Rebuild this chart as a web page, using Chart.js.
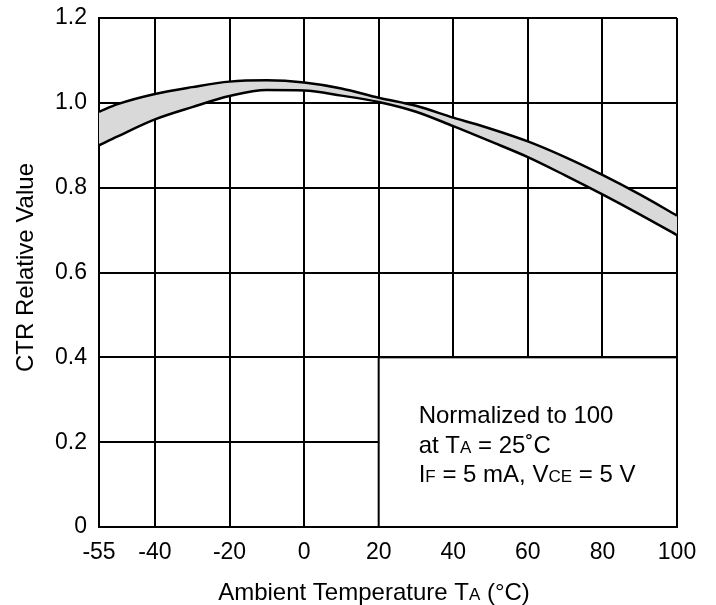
<!DOCTYPE html>
<html>
<head>
<meta charset="utf-8">
<script src="https://cdn.jsdelivr.net/npm/chart.js@4.4.0/dist/chart.umd.min.js"></script>
<style>
html,body{margin:0;padding:0;background:#fff;}
#wrap{width:716px;height:605px;position:relative;}
</style>
</head>
<body>
<div id="wrap"><canvas id="c" width="716" height="605"></canvas></div>
<script>
// Data
const temps = [-55, -50, -40, -30, -20, -10, 0, 10, 20, 30, 40, 50, 60, 70, 80, 90, 100];
const upperCTR = [0.979, 0.997, 1.021, 1.037, 1.050, 1.053, 1.048, 1.034, 1.012, 0.993, 0.965, 0.939, 0.909, 0.872, 0.830, 0.784, 0.734];
const lowerCTR = [0.900, 0.921, 0.961, 0.990, 1.016, 1.030, 1.029, 1.017, 1.002, 0.979, 0.945, 0.909, 0.872, 0.829, 0.784, 0.737, 0.688];
const xTickValues = [-55, -40, -20, 0, 20, 40, 60, 80, 100];
const yTickValues = [0, 0.2, 0.4, 0.6, 0.8, 1.0, 1.2];
const xTitleRuns = [['Ambient Temperature T', 24], ['A', 17], [' (°C)', 24]];
const yTitle = 'CTR Relative Value';
const noteLines = [
  [['Normalized to 100', 24]],
  [['at T', 24], ['A', 17], [' = 25˚C', 24]],
  [['I', 24], ['F', 17], [' = 5 mA, V', 24], ['CE', 17], [' = 5 V', 24]]
];

const FONT = '"Liberation Sans", Arial, Helvetica, sans-serif';

function drawRuns(ctx, runs, x, y, align) {
  let total = 0;
  runs.forEach(r => { ctx.font = r[1] + 'px ' + FONT; total += ctx.measureText(r[0]).width; });
  let cx = align === 'center' ? x - total / 2 : x;
  ctx.textAlign = 'left';
  ctx.textBaseline = 'alphabetic';
  runs.forEach(r => {
    ctx.font = r[1] + 'px ' + FONT;
    ctx.fillText(r[0], cx, y);
    cx += ctx.measureText(r[0]).width;
  });
}

const annot = {
  id: 'annot',
  beforeDatasetsDraw(chart) {
    const ctx = chart.ctx, xs = chart.scales.x, ys = chart.scales.y;
    const l = xs.getPixelForValue(20), r = xs.getPixelForValue(100);
    const t = ys.getPixelForValue(0.4), b = ys.getPixelForValue(0);
    ctx.save();
    ctx.fillStyle = '#fff';
    ctx.fillRect(l, t, r - l, b - t);
    ctx.strokeStyle = '#000';
    ctx.lineWidth = 2;
    ctx.strokeRect(l, t, r - l, b - t);
    ctx.restore();
  },
  afterDraw(chart) {
    const ctx = chart.ctx, xs = chart.scales.x, ys = chart.scales.y;
    const l = xs.getPixelForValue(20), t = ys.getPixelForValue(0.4);
    const ca = chart.chartArea;
    ctx.save();
    ctx.fillStyle = '#000';
    noteLines.forEach((line, i) => drawRuns(ctx, line, l + 40, t + 66 + i * 29.5, 'left'));
    drawRuns(ctx, xTitleRuns, (ca.left + ca.right) / 2 - 14, 600, 'center');
    ctx.translate(33, (ca.top + ca.bottom) / 2 - 5);
    ctx.rotate(-Math.PI / 2);
    ctx.font = '24px ' + FONT;
    ctx.textAlign = 'center';
    ctx.textBaseline = 'alphabetic';
    ctx.fillText(yTitle, 0, 0);
    ctx.restore();
  }
};

const grid = { color: '#000', lineWidth: 2, drawTicks: false };
const border = { display: true, color: '#000', width: 2 };

new Chart(document.getElementById('c'), {
  type: 'line',
  data: {
    datasets: [
      {
        data: temps.map((t, i) => ({ x: t, y: upperCTR[i] })),
        borderColor: '#000', borderWidth: 2.5, pointRadius: 0, fill: false,
        cubicInterpolationMode: 'monotone'
      },
      {
        data: temps.map((t, i) => ({ x: t, y: lowerCTR[i] })),
        borderColor: '#000', borderWidth: 2.5, pointRadius: 0, fill: '-1',
        backgroundColor: '#d9d9d9',
        cubicInterpolationMode: 'monotone'
      }
    ]
  },
  options: {
    responsive: false,
    animation: false,
    layout: { padding: { top: 18, right: 39, left: 0, bottom: 0 } },
    plugins: { legend: { display: false }, tooltip: { enabled: false } },
    scales: {
      x: {
        type: 'linear', min: -55, max: 100,
        afterBuildTicks(s) { s.ticks = xTickValues.map(v => ({ value: v })); },
        afterFit(s) { s.height = 78; s.paddingLeft = 0; s.paddingRight = 0; },
        grid: grid, border: border,
        ticks: { color: '#000', font: { family: FONT, size: 23 }, padding: 12, maxRotation: 0, autoSkip: false,
          callback: v => String(v) }
      },
      y: {
        type: 'linear', min: 0, max: 1.2,
        afterBuildTicks(s) { s.ticks = yTickValues.map(v => ({ value: v })); },
        afterFit(s) { s.width = 99; s.paddingTop = 0; s.paddingBottom = 0; },
        grid: grid, border: border,
        ticks: { color: '#000', font: { family: FONT, size: 23 }, padding: 12,
          callback: v => (v === 0 ? '0' : v.toFixed(1)) }
      }
    }
  },
  plugins: [annot]
});
</script>
</body>
</html>
